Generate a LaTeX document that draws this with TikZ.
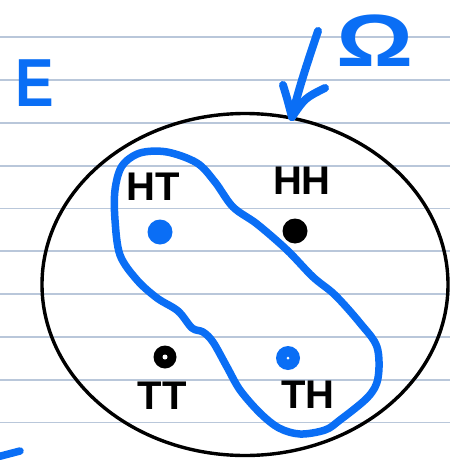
\documentclass[tikz,border=0pt]{standalone}
\usepackage{fontspec}
\setmainfont{Liberation Sans}
\definecolor{ruling}{HTML}{B9C7DA}
\definecolor{pen}{HTML}{0A6EF5}
\begin{document}
\begin{tikzpicture}[x=1pt,y=-1pt,
  ink/.style={line cap=round,line join=round},
  lbl/.style={font=\fontsize{40}{40}\selectfont\bfseries,inner sep=0pt},
  outcome/.style={circle,inner sep=0pt,minimum size=25pt}]
  % paper and ruled lines
  \fill[white] (0,0) rectangle (450,460);
  \useasboundingbox (0,0) rectangle (450,460);
  \foreach \k in {0,...,9}
    \draw[ruling,line width=1.8pt] (0,37.3+42.8*\k) -- (450,37.3+42.8*\k);

  % sample space
  \draw[line width=3.4pt] (245,284.5) ellipse [x radius=203pt, y radius=171pt];

  % outcomes
  \node[outcome,fill=pen]   (ht) at (160,232) {};
  \node[outcome,fill=black] (hh) at (295,231) {};
  \node[outcome,fill=black,minimum size=23pt] (tt) at (165,357) {};
  \fill[white] (tt.center) circle (2.5pt);
  \node[outcome,fill=pen,minimum size=24pt] (th) at (288,358) {};
  \fill[white] (th.center) circle (1.5pt);

  \node[lbl] (lht) at (153,187) {HT};
  \node[lbl] (lhh) at (302,181) {HH};
  \node[lbl] (ltt) at (162,396) {TT};
  \node[lbl] (lth) at (308,395) {TH};

  % event E
  \draw[pen,ink,line width=7.5pt] plot[smooth cycle,tension=0.55] coordinates {
    (140,153) (167,152) (197,163) (215,182) (233,207) (257,224) (287,250)
    (313,277) (335,295) (360,323) (377,347) (378,378) (368,397) (340,420)
    (325,430) (300,434) (279,428) (260,413) (240,390) (227,367) (213,342)
    (203,332) (192,328) (178,311) (157,298) (137,280) (120,255) (115,220)
    (115,190) (122,166)};

  \node[text=pen,font=\fontsize{68}{68}\selectfont\bfseries,inner sep=0pt]
    (elabel) at (35,83) {\scalebox{0.85}[1]{E}};

  % Omega with its arrow onto the ellipse
  \node[text=pen,font=\fontsize{74}{74}\selectfont\bfseries,inner sep=0pt]
    (omega) at (375,41) {\scalebox{1.3}[1]{Ω}};
  \coordinate (tip) at (292,117);
  \draw[pen,ink,line width=8pt] (318,31) .. controls (310,55) and (298,90) .. (tip);
  \draw[pen,ink,line width=8pt] (283,85) .. controls (287,98) .. (tip);
  \draw[pen,ink,line width=8pt] (325,88) .. controls (305,98) .. (tip);

  % stray stroke at the lower left
  \draw[pen,ink,line width=7.5pt] (-3,457) -- (20,451);
\end{tikzpicture}
\end{document}
